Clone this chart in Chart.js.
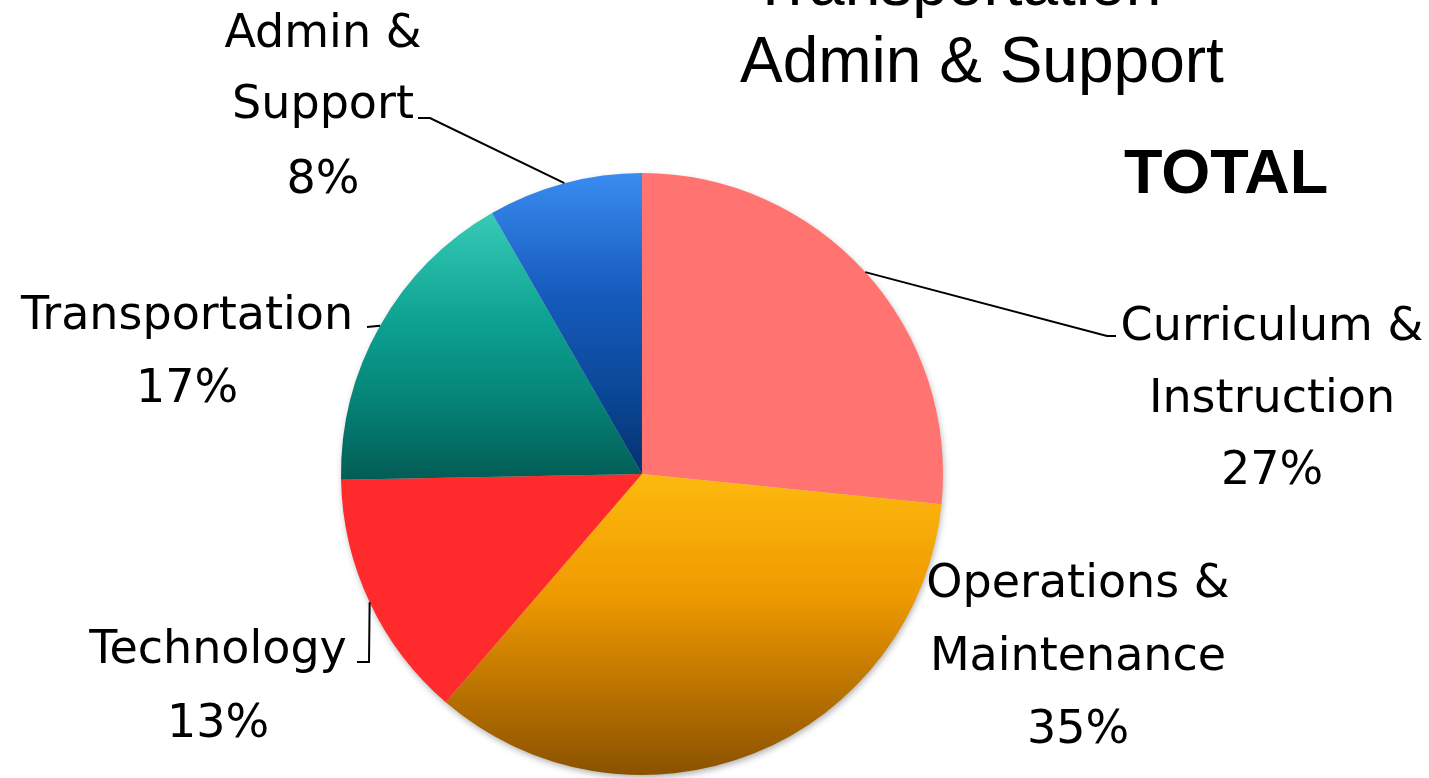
<!DOCTYPE html>
<html>
<head>
<meta charset="utf-8">
<script src="https://cdn.jsdelivr.net/npm/chart.js@4.4.1/dist/chart.umd.min.js"></script>
<style>
  html, body { margin: 0; padding: 0; background: #ffffff; }
  #wrap { width: 1429px; height: 778px; position: relative; }
</style>
</head>
<body>
<div id="wrap"><canvas id="c" width="1429" height="778"></canvas></div>
<script>
// ---- data ----
const categories = ["Curriculum & Instruction", "Operations & Maintenance", "Technology", "Transportation", "Admin & Support"];
const labelLines = [["Curriculum &", "Instruction"], ["Operations &", "Maintenance"], ["Technology"], ["Transportation"], ["Admin &", "Support"]];
const shares = [26.6, 34.7, 13.4, 17.0, 8.3];
const headingLines = ["Transportation", "Admin & Support"];
const totalLabel = "TOTAL";

// ---- styles ----
const gradientStops = [
  [[0, "#FF7370"], [1, "#FF7370"]],
  [[0, "#FDB90E"], [0.4, "#EF9A00"], [0.75, "#B56F00"], [1, "#8A5200"]],
  [[0, "#FF2A2C"], [1, "#FF2A2C"]],
  [[0, "#36CAB7"], [0.42, "#0DA090"], [0.67, "#06877A"], [1, "#025C54"]],
  [[0, "#3A8CF0"], [0.4, "#165BBD"], [0.73, "#0A4796"], [1, "#053270"]]
];

// label placement (layout only)
const labelLayout = [
  { cx: 1272, base: [340, 412, 484], path: [[1107, 336], [1116, 336]] },
  { cx: 1078, base: [597, 670, 743], path: null },
  { cx: 218, base: [663, 737], path: [[369, 662], [357, 662]] },
  { cx: 187, base: [329, 402], path: [[367, 327]] },
  { cx: 323, base: [47, 118, 193], path: [[430, 118], [418, 118]] }
];

function sliceBox(chart, i) {
  const area = chart.chartArea;
  const cx = (area.left + area.right) / 2, cy = (area.top + area.bottom) / 2;
  const r = Math.min(area.right - area.left, area.bottom - area.top) / 2;
  const total = shares.reduce((a, b) => a + b, 0);
  let cum = 0;
  for (let k = 0; k < i; k++) cum += shares[k];
  const a0 = -Math.PI / 2 + 2 * Math.PI * cum / total;
  const a1 = a0 + 2 * Math.PI * shares[i] / total;
  const ys = [cy, cy + r * Math.sin(a0), cy + r * Math.sin(a1)];
  [Math.PI / 2, -Math.PI / 2, 3 * Math.PI / 2].forEach(a => {
    if (a > a0 && a < a1) ys.push(cy + r * Math.sin(a));
  });
  return { top: Math.min(...ys), bottom: Math.max(...ys) };
}

function bg(context) {
  const chart = context.chart;
  const i = context.dataIndex;
  const stops = gradientStops[i];
  if (!chart.chartArea || i === undefined) return stops[0][1];
  const b = sliceBox(chart, i);
  const g = chart.ctx.createLinearGradient(0, b.top, 0, b.bottom);
  stops.forEach(s => g.addColorStop(s[0], s[1]));
  return g;
}

const shadowPlugin = {
  id: "pieShadow",
  beforeDatasetsDraw(chart) {
    const el = chart.getDatasetMeta(0).data[0];
    if (!el) return;
    const ctx = chart.ctx;
    ctx.save();
    ctx.shadowColor = "rgba(0,0,0,0.35)";
    ctx.shadowBlur = 7;
    ctx.shadowOffsetX = 1;
    ctx.shadowOffsetY = 3;
    ctx.fillStyle = "#cccccc";
    ctx.beginPath();
    ctx.arc(el.x, el.y, el.outerRadius - 1, 0, Math.PI * 2);
    ctx.fill();
    ctx.restore();
  }
};

const labelPlugin = {
  id: "sliceLabels",
  afterDraw(chart) {
    const ctx = chart.ctx;
    const meta = chart.getDatasetMeta(0);
    const total = shares.reduce((a, b) => a + b, 0);
    ctx.save();
    // leader lines
    ctx.strokeStyle = "#000000";
    ctx.lineWidth = 2;
    meta.data.forEach((el, i) => {
      const lay = labelLayout[i];
      if (!lay.path) return;
      const mid = (el.startAngle + el.endAngle) / 2;
      const sx = el.x + el.outerRadius * Math.cos(mid);
      const sy = el.y + el.outerRadius * Math.sin(mid);
      ctx.beginPath();
      ctx.moveTo(sx, sy);
      lay.path.forEach(p => ctx.lineTo(p[0], p[1]));
      ctx.stroke();
    });
    // label texts
    ctx.fillStyle = "#000000";
    ctx.textAlign = "center";
    ctx.textBaseline = "alphabetic";
    ctx.font = "46px 'DejaVu Sans'";
    meta.data.forEach((el, i) => {
      const lay = labelLayout[i];
      const lines = labelLines[i].concat([Math.round(shares[i] / total * 100) + "%"]);
      lines.forEach((t, k) => ctx.fillText(t, lay.cx, lay.base[k]));
    });
    // headings
    ctx.textAlign = "left";
    ctx.font = "64px 'Liberation Sans'";
    ctx.fillText(headingLines[0], 751, 5);
    ctx.fillText(headingLines[1], 740, 82);
    ctx.font = "bold 63px 'Liberation Sans'";
    ctx.fillText(totalLabel, 1124, 193);
    ctx.restore();
  }
};

new Chart(document.getElementById("c"), {
  type: "pie",
  data: {
    labels: categories,
    datasets: [{
      data: shares,
      backgroundColor: bg,
      borderWidth: 0,
      offset: 0,
      hoverOffset: 0
    }]
  },
  options: {
    responsive: false,
    animation: false,
    events: [],
    layout: { padding: { top: 173, bottom: 3, left: 341, right: 486 } },
    plugins: {
      legend: { display: false },
      tooltip: { enabled: false },
      title: { display: false }
    }
  },
  plugins: [shadowPlugin, labelPlugin]
});
</script>
</body>
</html>
